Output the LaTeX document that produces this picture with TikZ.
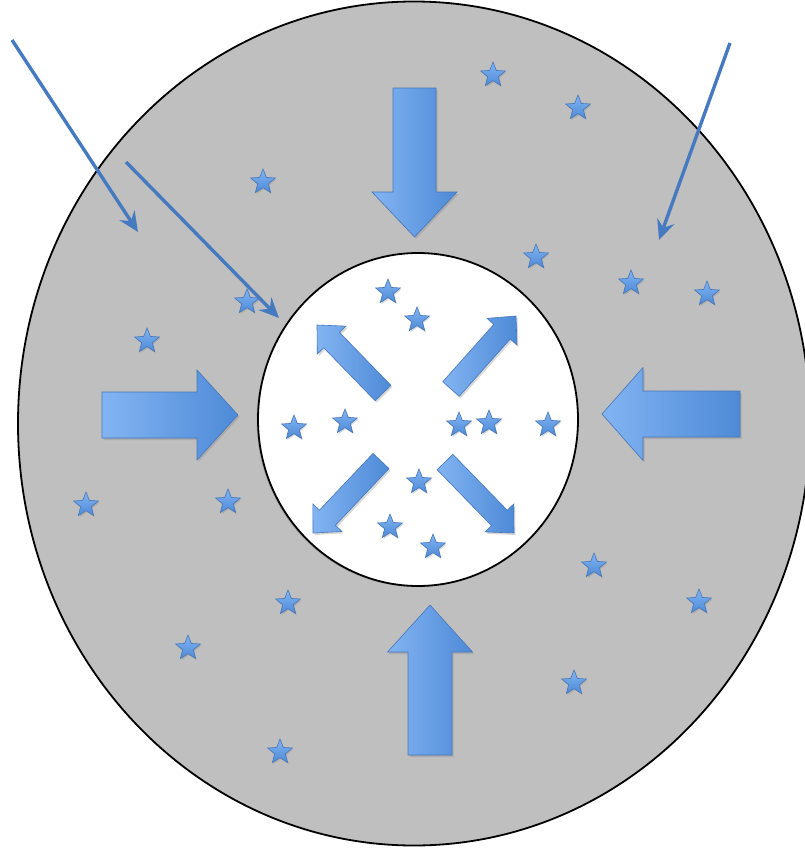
\documentclass[tikz,border=0pt]{standalone}
\usetikzlibrary{shapes.geometric,arrows.meta,calc,shadows}
\definecolor{disk}{RGB}{191,191,191}
\definecolor{bluelite}{RGB}{130,180,242}
\definecolor{bluedark}{RGB}{78,138,215}
\definecolor{blueedge}{RGB}{70,118,185}
\definecolor{pointercol}{RGB}{70,122,192}
\tikzset{
  starnode/.style={star, star points=5, star point ratio=2.3, minimum size=26pt,
    inner sep=0pt, draw=blueedge, line width=0.6pt, top color=bluelite, bottom color=bluedark,
    drop shadow={opacity=0.3, shadow xshift=1pt, shadow yshift=-1.5pt}},
  blockarrow/.style={draw=blueedge, line width=0.6pt, left color=bluelite, right color=bluedark,
    drop shadow={opacity=0.3, shadow xshift=1.5pt, shadow yshift=-2pt}},
  pointer/.style={draw=pointercol, line width=3.4pt, -{Stealth[length=20pt,width=18pt,inset=7pt]}},
  rim/.style={draw=black, line width=1.8pt}
}
\newcommand\blockarr[6]{% name, tail, tip, half shaft, half head, head length
  \coordinate (#1-c) at ($(#3)!#6!(#2)$);
  \path[blockarrow] ($(#2)!#4!90:(#3)$) -- ($(#1-c)!#4!90:(#3)$) -- ($(#1-c)!#5!90:(#3)$)
    -- (#3) -- ($(#1-c)!#5!-90:(#3)$) -- ($(#1-c)!#4!-90:(#3)$) -- ($(#2)!#4!-90:(#3)$) -- cycle;}
\begin{document}
\begin{tikzpicture}[x=1pt,y=-1pt]
\useasboundingbox (0,0) rectangle (805,851);
% outer disk
\path[rim, fill=disk] (414,423.5) ellipse [x radius=396, y radius=422];
% outer stars
\foreach \n/\x/\y in {o1/493/75, o2/578/108, o3/263/182, o4/536/257, o5/631/283, o6/707/294,
  o7/247/302, o8/147/341, o9/86/505, o10/228/502, o11/594/566, o12/699/602, o13/288/603,
  o14/188/648, o15/574/683, o16/280/752}
  \node[starnode] (\n) at (\x,\y) {};
% inner disk
\path[rim, fill=white, drop shadow={opacity=0.35, shadow xshift=-1.5pt, shadow yshift=-1pt}]
  (418,419.5) ellipse [x radius=160, y radius=166.5];
% inner stars
\foreach \n/\x/\y in {i1/388/292, i2/417/320, i3/294/428, i4/345/422, i5/459/425, i6/489/423,
  i7/548/425, i8/419/482, i9/390/527, i10/433/547}
  \node[starnode] (\n) at (\x,\y) {};
% big block arrows
\coordinate (dT) at (414.5,88);  \coordinate (dH) at (414.5,237);
\coordinate (rT) at (102,415);   \coordinate (rH) at (238,415);
\coordinate (lT) at (740,414);   \coordinate (lH) at (602,414);
\coordinate (uT) at (430,755);   \coordinate (uH) at (430,605);
\blockarr{down}{dT}{dH}{21.5pt}{42.5pt}{45pt}
\blockarr{right}{rT}{rH}{23pt}{45pt}{41pt}
\blockarr{left}{lT}{lH}{23pt}{46.5pt}{41pt}
\blockarr{up}{uT}{uH}{22pt}{42.5pt}{47pt}
% inner diagonal arrows
\coordinate (ulT) at (383,393); \coordinate (ulH) at (317,325);
\coordinate (urT) at (451,389); \coordinate (urH) at (516,316);
\coordinate (dlT) at (381,461); \coordinate (dlH) at (313,533);
\coordinate (drT) at (445,462); \coordinate (drH) at (514,533);
\blockarr{ul}{ulT}{ulH}{11pt}{20pt}{21pt}
\blockarr{ur}{urT}{urH}{11pt}{20pt}{21pt}
\blockarr{dl}{dlT}{dlH}{11pt}{20pt}{21pt}
\blockarr{dr}{drT}{drH}{11pt}{20pt}{21pt}
% thin pointers
\coordinate (p1a) at (12,40);   \coordinate (p1b) at (138,232);
\coordinate (p2a) at (126,162); \coordinate (p2b) at (279,318);
\coordinate (p3a) at (730,43);  \coordinate (p3b) at (659,240);
\draw[pointer] (p1a) -- (p1b);
\draw[pointer] (p2a) -- (p2b);
\draw[pointer] (p3a) -- (p3b);
\end{tikzpicture}
\end{document}
